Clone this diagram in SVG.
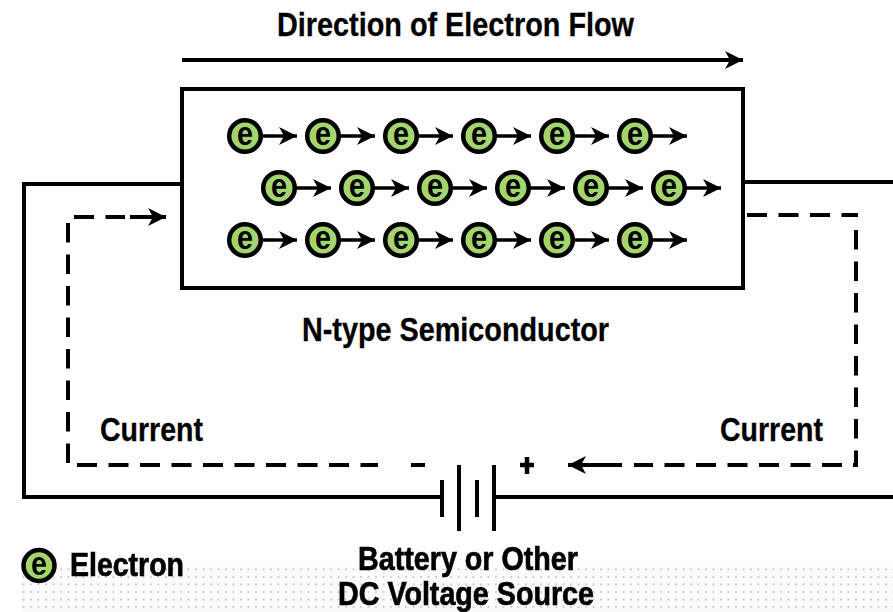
<svg xmlns="http://www.w3.org/2000/svg" width="893" height="612" viewBox="0 0 893 612">
<style>
.t{font-family:"Liberation Sans",Arial,sans-serif;font-weight:bold;font-size:34px;fill:#000;stroke:#000;stroke-width:.3}
.b{filter:url(#soft);stroke-width:.7}
.w{fill:none;stroke:#000;stroke-width:4}
.d{fill:none;stroke:#000;stroke-width:4;stroke-dasharray:20 11.5}
.v{fill:none;stroke:#000;stroke-width:4;stroke-dasharray:19.500 12}
.c{fill:#a4d46c;stroke:#000;stroke-width:4.500}
.e{font-family:"Liberation Sans",Arial,sans-serif;font-weight:bold;font-size:34px;fill:#000;text-anchor:middle}
.a{fill:none;stroke:#000;stroke-width:3.500}
</style>
<defs>
<filter id="soft" x="-5%" y="-20%" width="110%" height="140%"><feGaussianBlur stdDeviation="0.7"/></filter>
<pattern id="dots" width="7.500" height="7.500" patternUnits="userSpaceOnUse" x="21.500" y="567.500">
<rect width="7.500" height="7.500" fill="#fbfbfb"/>
<rect x="1" y="1" width="2" height="2" fill="#cfcfcf"/>
</pattern>
<marker id="ah" markerUnits="userSpaceOnUse" markerWidth="18" markerHeight="20" refX="18" refY="10" orient="auto">
<path d="M0 1L18 10L0 19L5 10Z" fill="#000"/>
</marker>
<g id="el">
<circle class="c" r="15.800"/>
<text class="e" y="9" textLength="16" lengthAdjust="spacingAndGlyphs">e</text>
<path class="a" d="M17 0H52" marker-end="url(#ah)"/>
</g>
</defs>
<rect width="893" height="612" fill="#fff"/>
<rect x="21" y="566" width="872" height="46" fill="url(#dots)"/>
<g id="connectors">
<path class="w" d="M181 184H24V497H442"/>
<path class="w" d="M745 182H893"/>
<path class="w" d="M496 497H893"/>
<path class="w" d="M182 60H743" marker-end="url(#ah)"/>
<path class="v" d="M68 223V465"/>
<path class="d" d="M74 217H125"/>
<path class="w" d="M130 217H166" marker-end="url(#ah)"/>
<path class="d" d="M747 215H858"/>
<path class="v" d="M856 230V466"/>
<path class="w" d="M853 465H858"/>
<path class="d" d="M842 465H634"/>
<path class="w" d="M622 465H568" marker-end="url(#ah)"/>
<path class="d" d="M77 465H378"/>
<path class="w" d="M411 465H425"/>
</g>
<g id="semiconductor"><rect x="182" y="89" width="561" height="199" fill="none" stroke="#000" stroke-width="4"/></g>
<g id="electrons">
<use href="#el" x="245" y="136"/><use href="#el" x="323" y="136"/><use href="#el" x="401" y="136"/><use href="#el" x="479" y="136"/><use href="#el" x="557" y="136"/><use href="#el" x="635" y="136"/>
<use href="#el" x="279" y="188"/><use href="#el" x="357" y="188"/><use href="#el" x="435" y="188"/><use href="#el" x="513" y="188"/><use href="#el" x="591" y="188"/><use href="#el" x="669" y="188"/>
<use href="#el" x="245" y="240"/><use href="#el" x="323" y="240"/><use href="#el" x="401" y="240"/><use href="#el" x="479" y="240"/><use href="#el" x="557" y="240"/><use href="#el" x="635" y="240"/>
</g>
<g id="battery">
<path class="w" d="M442 480V517M459 465V531M477 480V517M494 465V531"/>
<path d="M527 457V474M520 465H534" fill="none" stroke="#000" stroke-width="4.500"/>
</g>
<g id="labels">
<text class="t" x="277" y="36" textLength="357" lengthAdjust="spacingAndGlyphs">Direction of Electron Flow</text>
<text class="t" x="302" y="341" textLength="307" lengthAdjust="spacingAndGlyphs">N-type Semiconductor</text>
<text class="t" x="100" y="441" textLength="103" lengthAdjust="spacingAndGlyphs">Current</text>
<text class="t" x="720" y="441" textLength="103" lengthAdjust="spacingAndGlyphs">Current</text>
<text class="t b" x="70" y="576" textLength="114" lengthAdjust="spacingAndGlyphs">Electron</text>
<text class="t b" x="358" y="570" textLength="220" lengthAdjust="spacingAndGlyphs">Battery or Other</text>
<text class="t b" x="338" y="605" textLength="256" lengthAdjust="spacingAndGlyphs">DC Voltage Source</text>
</g>
<g id="legend" filter="url(#soft)">
<circle class="c" cx="39" cy="565.500" r="15.500"/>
<text class="e" x="39" y="574.500" textLength="16" lengthAdjust="spacingAndGlyphs">e</text>
</g>
</svg>
